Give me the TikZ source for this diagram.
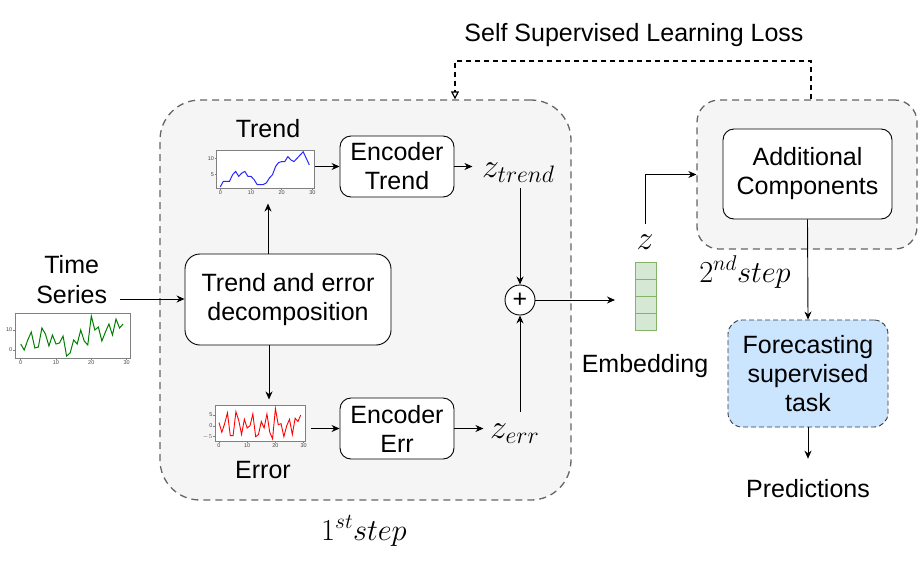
\RequirePackage{fix-cm}
\documentclass[tikz,border=0pt]{standalone}
\usepackage{fontspec}
\setmainfont{Liberation Sans}
\usepackage{xcolor}
\definecolor{PanelGrey}{HTML}{F5F5F5}
\definecolor{DashGrey}{HTML}{666666}
\definecolor{EmbFill}{HTML}{D5E8D4}
\definecolor{EmbEdge}{HTML}{82B366}
\definecolor{TaskFill}{HTML}{CCE5FF}
\definecolor{TaskEdge}{HTML}{36393D}
\definecolor{AxisGrey}{HTML}{808080}
\definecolor{TickGrey}{HTML}{444444}
\usepackage{tikz}
\usetikzlibrary{
  calc,
  positioning,
  arrows.meta
}

\begin{document}
\begin{tikzpicture}[
  x=1pt, y=-1pt,
  font=\fontsize{25}{29}\selectfont,
  panel/.style     = {draw=DashGrey, fill=PanelGrey, dash pattern=on 7pt off 5pt,
                      line width=1.3pt, inner sep=0pt},
  block/.style     = {draw, rounded corners=11pt, fill=white, align=center,
                      line width=0.9pt, inner sep=0pt},
  plotframe/.style = {draw=AxisGrey, line width=0.6pt, inner sep=0pt, fill=white},
  ticklbl/.style   = {font=\fontsize{5.5}{6}\selectfont, text=TickGrey, inner sep=0.8pt},
  txt/.style       = {align=center, inner sep=0pt},
  mathlbl/.style   = {inner sep=0pt, font=\fontsize{34}{38}\selectfont},
  steplbl/.style   = {inner sep=0pt, font=\fontsize{30.5}{34}\selectfont},
  cell/.style      = {draw=EmbEdge, fill=EmbFill, line width=0.8pt, outer sep=0pt,
                      minimum width=21pt, minimum height=17pt, inner sep=0pt},
  arrow/.style     = {-{Stealth[length=8pt,width=7pt]}, line width=0.9pt},
  lossarrow/.style = {-{Triangle[open,length=8pt,width=8pt]}, line width=1.2pt,
                      dash pattern=on 5pt off 4pt}
]
  \useasboundingbox (0,0) rectangle (918,571);

  % Panels for the two steps
  \node[panel, rounded corners=40pt, minimum width=411pt, minimum height=400pt] (step1) at (365.5,300) {};
  \node[panel, rounded corners=22pt, minimum width=220pt, minimum height=149pt] (step2) at (807,174.5) {};

  % Step 1: decomposition and encoders
  \node[block, rounded corners=15pt, minimum width=206pt, minimum height=91pt] (decomp) at (288,299.5) {Trend and error\\decomposition};
  \node[block, minimum width=114pt, minimum height=61pt] (enctrend) at (397,166.5) {Encoder\\Trend};
  \node[block, minimum width=114pt, minimum height=61pt] (encerr) at (397,428.5) {Encoder\\Err};
  \node[circle, draw, fill=white, line width=0.9pt, minimum size=30pt, inner sep=0pt] (plus) at (520,300) {+};

  \node[mathlbl, anchor=base west] (ztrend) at (482,177) {$z_{trend}$};
  \node[mathlbl, anchor=base west] (zerr) at (490,438) {$z_{err}$};

  % Step 2: extra components and the task
  \node[block, minimum width=169pt, minimum height=90pt] (addcomp) at (807.5,174) {Additional\\Components};
  \node[block, fill=TaskFill, draw=TaskEdge, dash pattern=on 5pt off 3pt, rounded corners=14pt,
        minimum width=160pt, minimum height=107pt] (task) at (808,373.5) {Forecasting\\supervised\\task};

  % Embedding column
  \node[cell] (e1) at (645.5,270.5) {};
  \node[cell, below=0pt of e1] (e2) {};
  \node[cell, below=0pt of e2] (e3) {};
  \node[cell, below=0pt of e3] (e4) {};
  \node[mathlbl, anchor=base] (zlbl) at (645,249) {$z$};
  \coordinate (embin) at (615,300);

  % Plain labels
  \node[txt, font=\fontsize{25}{30}\selectfont] (tslbl) at (71.7,280) {Time\\Series};
  \node[txt, anchor=base] (trendlbl) at (268,137) {Trend};
  \node[txt, anchor=base] (errlbl) at (263,478) {Error};
  \node[txt, anchor=base] (emblbl) at (645,372) {Embedding};
  \node[txt, anchor=base] (predlbl) at (808,497) {Predictions};
  \node[txt, anchor=base] (losslbl) at (634,41) {Self Supervised Learning Loss};
  \node[steplbl, anchor=base] (step1lbl) at (364,540) {$1^{st}step$};
  \node[steplbl, anchor=base] (step2lbl) at (745,282) {$2^{nd}step$};

  % Time series plot
  \node[plotframe, minimum width=115pt, minimum height=45pt] (tsplot) at (72.5,335.5) {};
  \begin{scope}[shift={(20.7,350)}, x=3.53pt, y=2pt]
    \draw[green!50!black, line width=1pt] plot coordinates {(0,3) (1,0) (2,5) (3,9) (4,1) (5,1.5) (6,11) (7,8) (8,2) (9,7.5) (10,3) (11,3.5) (12,7) (13,-3) (14,-1.5) (15,5) (16,3) (17,10) (18,4.5) (19,2.5) (20,17) (21,10) (22,11.5) (23,4.5) (24,9) (25,13) (26,7.5) (27,15.5) (28,11) (29,13)};
    \foreach \t in {0,10,20,30}
      \draw[AxisGrey, line width=0.5pt] (\t,-4) -- (\t,-5) node[ticklbl, below] {\t};
    \foreach \t in {0,10}
      \draw[AxisGrey, line width=0.5pt] (-1.6,\t) -- (-2.1,\t) node[ticklbl, left] {\t};
  \end{scope}

  % Trend plot
  \node[plotframe, minimum width=97.6pt, minimum height=38pt] (trendplot) at (265.5,169.3) {};
  \begin{scope}[shift={(220.3,191.1)}, x=3.07pt, y=3.28pt]
    \draw[blue!85!white, line width=1pt] plot coordinates {(0,1.3) (1,3) (2,3) (3,3) (4,5) (5,6) (6,4.5) (7,5.5) (8,6) (9,4.5) (10,4.5) (11,3.5) (12,2) (13,2) (14,2) (15,2.5) (16,4) (17,5) (18,7.5) (19,8.7) (20,9) (21,9) (22,10.5) (23,9.5) (24,9) (25,10) (26,11) (27,12) (28,10) (29,8)};
    \foreach \t in {0,10,20,30}
      \draw[AxisGrey, line width=0.5pt] (\t,0.95) -- (\t,0.35) node[ticklbl, below] {\t};
    \foreach \t in {5,10}
      \draw[AxisGrey, line width=0.5pt] (-1.07,\t) -- (-1.7,\t) node[ticklbl, left] {\t};
  \end{scope}

  % Error plot
  \node[plotframe, minimum width=90pt, minimum height=36pt] (errplot) at (260.3,423) {};
  \begin{scope}[shift={(219,425.8)}, x=2.82pt, y=2.17pt]
    \draw[red, line width=0.9pt] plot coordinates {(0,1.5) (1,-3) (2,1) (3,6) (4,-4.5) (5,-4.5) (6,6.5) (7,2.5) (8,-4) (9,3) (10,-1) (11,0) (12,5.5) (13,-5) (14,-4) (15,2) (16,-1) (17,5.5) (18,-3) (19,-6) (20,8) (21,0.5) (22,1) (23,-5) (24,0) (25,3) (26,-4) (27,3.5) (28,2) (29,5)};
    \foreach \t in {0,10,20,30}
      \draw[AxisGrey, line width=0.5pt] (\t,-7) -- (\t,-7.9) node[ticklbl, below] {\t};
    \foreach \t/\s in {-5/$-5$,0/0,5/5}
      \draw[AxisGrey, line width=0.5pt] (-1.31,\t) -- (-2,\t) node[ticklbl, left] {\s};
  \end{scope}

  % Step 1 arrows
  \coordinate (tsout) at (120,299);
  \draw[arrow] (tsout) -- (tsout -| decomp.west);
  \draw[arrow] ([xshift=-20pt]decomp.north) -- ++(0,-50);
  \draw[arrow] ([xshift=-19pt]decomp.south) -- ++(0,54);
  \draw[arrow] (trendplot.east |- enctrend.west) -- (enctrend.west);
  \draw[arrow] ([xshift=5pt]errplot.east |- encerr.west) -- (encerr.west);
  \draw[arrow] (enctrend.east) -- ++(18,0);
  \draw[arrow] (encerr.east) -- ++(29,0);
  \draw[arrow] ([yshift=-6pt]ztrend.south -| plus.north) -- (plus.north);
  \draw[arrow] ([yshift=11pt]zerr.north -| plus.south) -- (plus.south);
  \draw[arrow] (plus.east) -- (embin);

  % Embedding to step 2
  \draw[arrow] ([yshift=10pt]zlbl.north) |- (step2.west);
  \draw[arrow] (addcomp.south) -- (task.north);
  \draw[arrow] (task.south) -- ([yshift=20pt]predlbl.north);

  % Feedback loss
  \coordinate (lossR) at (811,61);
  \coordinate (lossL) at (455,61);
  \draw[lossarrow] (lossR |- step2.north) -- (lossR) -- (lossL) -- (lossL |- step1.north);

\end{tikzpicture}
\end{document}
